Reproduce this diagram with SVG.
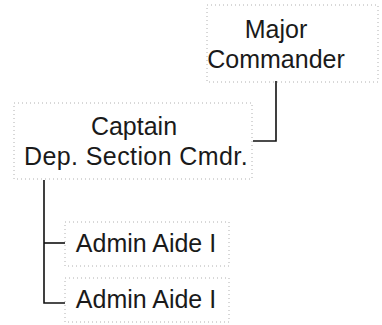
<svg xmlns="http://www.w3.org/2000/svg" width="382" height="325" viewBox="0 0 382 325">
<style>
.box{fill:none;stroke:#b0b0b0;stroke-width:1;stroke-dasharray:1 3}
.t{font-family:"Liberation Sans",Arial,sans-serif;font-size:25px;fill:#1a1a1a;text-anchor:middle}
.c{fill:none;stroke:#111;stroke-width:1.6}
</style>
<rect width="382" height="325" fill="#fff"/>
<g id="connectors">
<path class="c" d="M276,81 V141 H253"/>
<path class="c" d="M44,180 V303 H65"/>
<path class="c" d="M44,243 H65"/>
</g>
<g id="major">
<rect class="box" x="207" y="5" width="171" height="77"/>
<text class="t" x="276" y="38">Major</text>
<text class="t" x="276" y="68">Commander</text>
</g>
<g id="captain">
<rect class="box" x="14" y="103" width="238" height="76"/>
<text class="t" x="134" y="135">Captain</text>
<text class="t" x="136" y="165" letter-spacing="0.4">Dep. Section Cmdr.</text>
</g>
<g id="aide1">
<rect class="box" x="65" y="222" width="164" height="44"/>
<text class="t" x="146" y="252">Admin Aide I</text>
</g>
<g id="aide2">
<rect class="box" x="65" y="278" width="164" height="44"/>
<text class="t" x="146" y="308">Admin Aide I</text>
</g>
</svg>
